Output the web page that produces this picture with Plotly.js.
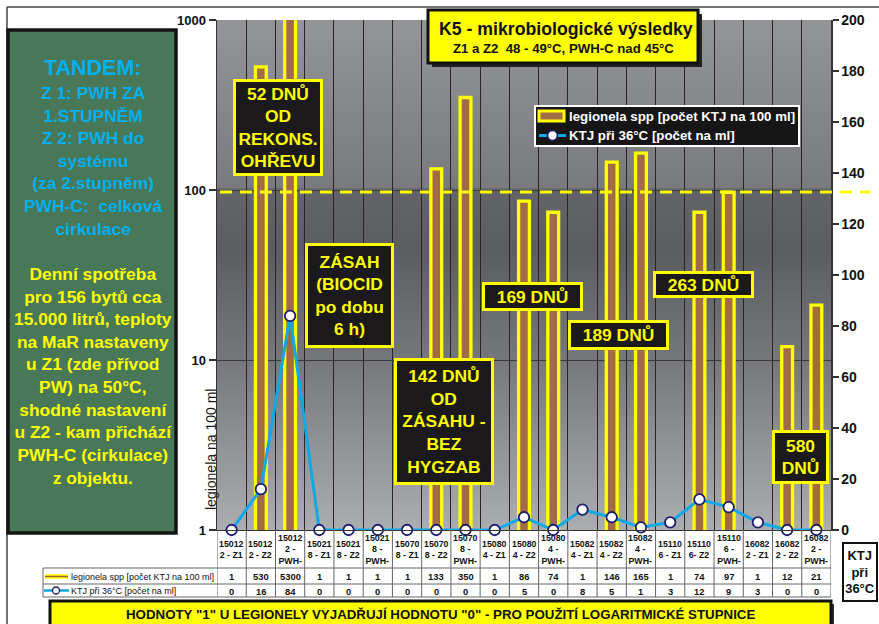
<!DOCTYPE html>
<html><head><meta charset="utf-8">
<script src="https://cdn.plot.ly/plotly-3.0.1.min.js"></script>
<style>html,body{margin:0;padding:0;background:#fff;}#chart{width:879px;height:624px;}</style>
</head><body><div id="chart"></div>
<script>
// ---------- data ----------
const categories = [
  "15012<br>2 - Z1","15012<br>2 - Z2","15012<br>2 -<br>PWH-",
  "15021<br>8 - Z1","15021<br>8 - Z2","15021<br>8 -<br>PWH-",
  "15070<br>8 - Z1","15070<br>8 - Z2","15070<br>8 -<br>PWH-",
  "15080<br>4 - Z1","15080<br>4 - Z2","15080<br>4 -<br>PWH-",
  "15082<br>4 - Z1","15082<br>4 - Z2","15082<br>4 -<br>PWH-",
  "15110<br>6 - Z1","15110<br>6- Z2","15110<br>6 -<br>PWH-",
  "16082<br>2 - Z1","16082<br>2 - Z2","16082<br>2 -<br>PWH-"
];
const legionela = [1,530,5300,1,1,1,1,133,350,1,86,74,1,146,165,1,74,97,1,12,21];
const ktj = [0,16,84,0,0,0,0,0,0,0,5,0,8,5,1,3,12,9,3,0,0];
const seriesNames = ["legionela spp [počet KTJ na 100 ml]", "KTJ při 36°C [počet na ml]"];
const leftTickVals = [1,10,100,1000];
const leftTickText = ["1","10","100","1000"];
const limitLine = 132.5; // on right axis
const chartTitle = "K5 - mikrobiologické výsledky";
const chartSubtitle = "Z1 a Z2&#160; 48 - 49°C, PWH-C nad 45°C";
const footerText = 'HODNOTY "1" U LEGIONELY VYJADŘUJÍ HODNOTU "0" - PRO POUŽITÍ LOGARITMICKÉ STUPNICE';
const sideTitle = "TANDEM:";
const sideCyan = ["Z 1: PWH ZA","1.STUPNĚM","Z 2: PWH do","systému","(za 2.stupněm)","PWH-C:&#160; celková","cirkulace"];
const sideYellow = ["Denní spotřeba","pro 156 bytů cca","15.000 litrů, teploty","na MaR nastaveny","u Z1 (zde přívod","PW) na 50°C,","shodné nastavení","u Z2 - kam přichází","PWH-C (cirkulace)","z objektu."];
const notes = [
  "52 DNŮ<br>OD<br>REKONS.<br>OHŘEVU",
  "ZÁSAH<br>(BIOCID<br>po dobu<br>6 h)",
  "142 DNŮ<br>OD<br>ZÁSAHU -<br>BEZ<br>HYGZAB",
  "169 DNŮ",
  "189 DNŮ",
  "263 DNŮ",
  "580<br>DNŮ"
];

// ---------- layout helpers ----------
const FONT = "Liberation Sans, Arial, Helvetica, sans-serif";
const L = 217, R = 831, T = 20, B = 530;
const px = p => (p - L) / (R - L);
const py = p => (B - p) / (B - T);
const BAR_FILL = '#a26b47', BAR_LINE = '#ffff00', LINE_C = '#10a8e6', MK_LINE = '#1c1c70';

const shapes = [];
const ann = [];

// plot background gradient
const stops = [[20,[148,149,153]],[188,[121,122,126]],[190,[99,100,104]],[250,[92,93,97]],[360,[118,119,123]],[530,[172,173,177]]];
function colAt(y){
  for(let i=0;i<stops.length-1;i++){
    const [y0,c0]=stops[i],[y1,c1]=stops[i+1];
    if(y>=y0 && y<=y1){
      const t=(y-y0)/(y1-y0);
      return 'rgb('+c0.map((c,k)=>Math.round(c+(c1[k]-c)*t)).join(',')+')';
    }
  }
  return 'rgb(150,150,150)';
}
const N = 170;
for(let k=0;k<N;k++){
  const ya = T + (B-T)*k/N, yb = T + (B-T)*(k+1)/N;
  shapes.push({type:'rect', xref:'paper', yref:'paper', x0:0, x1:1, y0:py(yb+0.4), y1:py(ya),
    fillcolor:colAt((ya+yb)/2), line:{width:0}, layer:'below'});
}

// outer chart frame lines
shapes.push({type:'line', xref:'paper', yref:'paper', x0:px(7), x1:px(879), y0:py(7), y1:py(7), line:{color:'#444', width:1.5}});
shapes.push({type:'line', xref:'paper', yref:'paper', x0:px(7), x1:px(7), y0:py(7), y1:py(624), line:{color:'#444', width:1.5}});

// green side box
shapes.push({type:'rect', xref:'paper', yref:'paper', x0:px(8), x1:px(176), y0:py(533), y1:py(30),
  fillcolor:'#487858', line:{color:'#141414', width:3.5}});

// title box with shadow
shapes.push({type:'rect', xref:'paper', yref:'paper', x0:px(432), x1:px(702), y0:py(67), y1:py(14), fillcolor:'#222', line:{width:0}});
shapes.push({type:'rect', xref:'paper', yref:'paper', x0:px(428), x1:px(698), y0:py(63), y1:py(10), fillcolor:'#ffff00', line:{color:'#111', width:3}});

// footer box with shadow
shapes.push({type:'rect', xref:'paper', yref:'paper', x0:px(53), x1:px(834), y0:py(630), y1:py(604), fillcolor:'#333', line:{width:0}});
shapes.push({type:'rect', xref:'paper', yref:'paper', x0:px(50), x1:px(831), y0:py(630), y1:py(601), fillcolor:'#ffff00', line:{color:'#111', width:3}});

// limit dashed line
shapes.push({type:'line', xref:'paper', yref:'y2', x0:px(220), x1:px(870), y0:limitLine, y1:limitLine,
  line:{color:'#ffff00', width:3, dash:'12px,8px'}, layer:'above'});

// custom legend box
shapes.push({type:'rect', xref:'paper', yref:'paper', x0:px(535), x1:px(799), y0:py(146), y1:py(106),
  fillcolor:'#161616', line:{color:'#ffffff', width:2}});
shapes.push({type:'rect', xref:'paper', yref:'paper', x0:px(539), x1:px(564), y0:py(121), y1:py(111),
  fillcolor:BAR_FILL, line:{color:BAR_LINE, width:3}});
shapes.push({type:'line', xref:'paper', yref:'paper', x0:px(539), x1:px(566), y0:py(135.5), y1:py(135.5), line:{color:LINE_C, width:3}});
shapes.push({type:'circle', xref:'paper', yref:'paper', x0:px(547.5), x1:px(557.5), y0:py(140.5), y1:py(130.5),
  fillcolor:'white', line:{color:MK_LINE, width:1.6}});
ann.push({xref:'paper', yref:'paper', x:px(567), y:py(116.5), text:seriesNames[0], showarrow:false, xanchor:'left', yanchor:'middle',
  font:{family:FONT, size:13.3, color:'#ffffff', weight:'bold'}});
ann.push({xref:'paper', yref:'paper', x:px(567), y:py(135.5), text:seriesNames[1], showarrow:false, xanchor:'left', yanchor:'middle',
  font:{family:FONT, size:13.3, color:'#ffffff', weight:'bold'}});

// data table grid
const rowTop = 568, rowMid = 584, rowBot = 597;
const gridC = '#666';
[rowTop,rowMid,rowBot].forEach(y=>{
  shapes.push({type:'line', xref:'paper', yref:'paper', x0:px(43), x1:px(R), y0:py(y), y1:py(y), line:{color:gridC, width:1}});
});
shapes.push({type:'line', xref:'paper', yref:'paper', x0:px(43), x1:px(43), y0:py(rowTop), y1:py(rowBot), line:{color:gridC, width:1}});
for(let i=0;i<=categories.length;i++){
  shapes.push({type:'line', xref:'x', yref:'paper', x0:i-0.5, x1:i-0.5, y0:py(B), y1:py(rowBot), line:{color:gridC, width:1}});
}
// legend keys in table
shapes.push({type:'line', xref:'paper', yref:'paper', x0:px(45), x1:px(68), y0:py(576.5), y1:py(576.5), line:{color:'#ffff00', width:4.5}});
shapes.push({type:'line', xref:'paper', yref:'paper', x0:px(45), x1:px(68), y0:py(576.5), y1:py(576.5), line:{color:'#9a6434', width:1.5}});
shapes.push({type:'line', xref:'paper', yref:'paper', x0:px(44), x1:px(69), y0:py(590.5), y1:py(590.5), line:{color:LINE_C, width:2.5}});
shapes.push({type:'circle', xref:'paper', yref:'paper', x0:px(52.5), x1:px(59.5), y0:py(594), y1:py(587), fillcolor:'white', line:{color:MK_LINE, width:1.3}});

// table texts
categories.forEach((c,i)=>{
  ann.push({xref:'x', yref:'paper', x:c, y:py(549.5), text:c, showarrow:false, xanchor:'center', yanchor:'middle',
    font:{family:FONT, size:8.8, color:'#111', weight:'bold'}, align:'center'});
  ann.push({xref:'x', yref:'paper', x:c, y:py(576.5), text:String(legionela[i]), showarrow:false, xanchor:'center', yanchor:'middle',
    font:{family:FONT, size:9.4, color:'#111', weight:'bold'}});
  ann.push({xref:'x', yref:'paper', x:c, y:py(591), text:String(ktj[i]), showarrow:false, xanchor:'center', yanchor:'middle',
    font:{family:FONT, size:9.4, color:'#111', weight:'bold'}});
});
ann.push({xref:'paper', yref:'paper', x:px(69), y:py(576.5), text:seriesNames[0], showarrow:false, xanchor:'left', yanchor:'middle',
  font:{family:FONT, size:9, color:'#111'}});
ann.push({xref:'paper', yref:'paper', x:px(69), y:py(591), text:seriesNames[1], showarrow:false, xanchor:'left', yanchor:'middle',
  font:{family:FONT, size:9, color:'#111'}});

function label(text, cx, cy, size, color, extra){
  return Object.assign({xref:'paper', yref:'paper', x:px(cx), y:py(cy), xanchor:'center', yanchor:'middle', text:text,
    showarrow:false, font:{family:FONT, size:size, color:color, weight:'bold'}, align:'center'}, extra||{});
}
function box(text, x0, y0, x1, y1, size){
  const bw = 3, bp = 1;
  return {xref:'paper', yref:'paper', x:px((x0+x1)/2), y:py((y0+y1)/2), xanchor:'center', yanchor:'middle', text:text,
    showarrow:false, width:(x1-x0)-2*(bw+bp), height:(y1-y0)-2*(bw+bp), bgcolor:'#1b1919', bordercolor:'#ffff00',
    borderwidth:bw, borderpad:bp, font:{family:FONT, size:size, color:'#ffff00', weight:'bold'}, align:'center', valign:'middle'};
}

// side box texts
ann.push(label(sideTitle, 93, 68, 21.5, '#00b0f0'));
ann.push(label(sideCyan.join('<br>'), 93, 161, 17.4, '#00b0f0'));
ann.push(label(sideYellow.join('<br>'), 93, 375.5, 17.4, '#ffff00'));

// title
ann.push(label(chartTitle, 566, 29, 17.7, '#111'));
ann.push(label(chartSubtitle, 563, 48, 13.2, '#111'));

// footer
ann.push(label(footerText, 440.5, 614, 13.3, '#111'));

// axis title
ann.push({xref:'paper', yref:'paper', x:px(211), y:py(450), text:'legionela na 100 ml', textangle:-90, showarrow:false,
  xanchor:'center', yanchor:'middle', font:{family:FONT, size:14, color:'#1a1a1a'}});

// KTJ box at right
ann.push({xref:'paper', yref:'paper', x:px(860), y:py(572), text:'KTJ<br>při<br>36°C', showarrow:false, xanchor:'center', yanchor:'middle',
  width:30, height:54, bgcolor:'white', bordercolor:'#111', borderwidth:2, borderpad:1,
  font:{family:FONT, size:13, color:'#111', weight:'bold'}, align:'center', valign:'middle'});

// note boxes
ann.push(box(notes[0], 233, 79, 323, 176, 17.4));
ann.push(box(notes[1], 305, 243, 394, 348, 17.4));
ann.push(box(notes[2], 394, 358, 494, 485, 17.4));
ann.push(box(notes[3], 482, 282, 583, 311, 17.4));
ann.push(box(notes[4], 568, 320, 669, 350, 17.4));
ann.push(box(notes[5], 653, 271, 754, 298, 17.4));
ann.push(box(notes[6], 772, 430, 829, 484, 17.4));

// ---------- traces ----------
const barTrace = {
  type:'bar', name:seriesNames[0], x:categories, y:legionela.map(v => v > 1 ? v : null),
  width:0.37, marker:{color:BAR_FILL, line:{color:BAR_LINE, width:3.3}}, hoverinfo:'skip', showlegend:false
};
const lineTrace = {
  type:'scatter', mode:'lines+markers', name:seriesNames[1], x:categories, y:ktj, yaxis:'y2',
  line:{color:LINE_C, width:3}, marker:{size:10.5, color:'white', line:{color:MK_LINE, width:1.8}},
  cliponaxis:false, hoverinfo:'skip', showlegend:false
};

const layout = {
  width:879, height:624,
  margin:{l:L, r:879-R, t:T, b:624-B, pad:0},
  paper_bgcolor:'#ffffff', plot_bgcolor:'#7a7b7f',
  font:{family:FONT, color:'#111'},
  hovermode:false,
  showlegend:false,
  xaxis:{type:'category', range:[-0.5, categories.length-0.5], tickson:'boundaries', showgrid:true, gridcolor:'#262626', gridwidth:1,
    showticklabels:false, ticks:'', showline:true, linecolor:'#333', linewidth:1, zeroline:false},
  yaxis:{type:'log', range:[0,3], tickmode:'array', tickvals:leftTickVals, ticktext:leftTickText, ticks:'outside', ticklen:7,
    tickcolor:'#333', tickwidth:1.5, tickfont:{family:FONT, size:13, color:'#111', weight:'bold'}, showgrid:true, gridcolor:'#3a3a3a',
    gridwidth:1, showline:true, linecolor:'#333', linewidth:1.5, zeroline:false},
  yaxis2:{overlaying:'y', side:'right', range:[0,200], tick0:0, dtick:20, ticks:'outside', ticklen:6, tickcolor:'#333', tickwidth:1.5,
    tickfont:{family:FONT, size:14, color:'#111', weight:'bold'}, showgrid:false, showline:true, linecolor:'#333', linewidth:1.5, zeroline:false},
  shapes:shapes,
  annotations:ann
};

Plotly.newPlot('chart', [barTrace, lineTrace], layout, {displayModeBar:false, staticPlot:true});
</script>
</body></html>
